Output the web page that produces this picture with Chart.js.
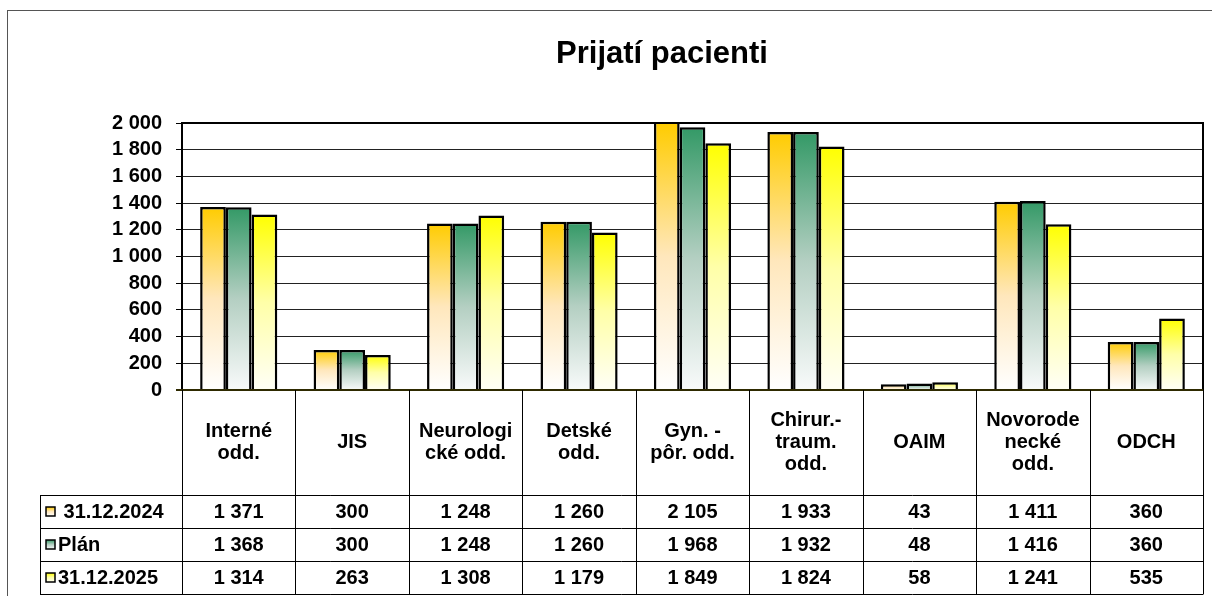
<!DOCTYPE html>
<html>
<head>
<meta charset="utf-8">
<title>Prijatí pacienti</title>
<script src="https://cdn.jsdelivr.net/npm/chart.js@4.4.1/dist/chart.umd.min.js"></script>
<style>
  html, body { margin: 0; padding: 0; background: #fff; }
  #wrap { width: 1212px; height: 596px; }
</style>
</head>
<body>
<div id="wrap"><canvas id="patientsChart" width="1212" height="596"></canvas></div>
<script>
// data
const categories = [
    ['Interné', 'odd.'],
    ['JIS'],
    ['Neurologi', 'cké odd.'],
    ['Detské', 'odd.'],
    ['Gyn. -', 'pôr. odd.'],
    ['Chirur.-', 'traum.', 'odd.'],
    ['OAIM'],
    ['Novorode', 'necké', 'odd.'],
    ['ODCH']
];
const seriesNames = [' 31.12.2024', 'Plán', '31.12.2025'];
const values2024 = [1371, 300, 1248, 1260, 2105, 1933, 43, 1411, 360];
const valuesPlan = [1368, 300, 1248, 1260, 1968, 1932, 48, 1416, 360];
const values2025 = [1314, 263, 1308, 1179, 1849, 1824, 58, 1241, 535];
const yTicks = [0, 200, 400, 600, 800, 1000, 1200, 1400, 1600, 1800, 2000];

const gradStops = [
    ['#FFCC00', '#FFE7BC', '#FFFFFF'],
    ['#339966', '#B4CFC2', '#F8FAFA'],
    ['#FFFF00', '#FFFFA8', '#FFFFF6']
];

const FONT = '"Liberation Sans", Arial, sans-serif';

function fmt(v) {
    return String(v).replace(/\B(?=(\d{3})+(?!\d))/g, ' ');
}

function makeGradient(ctx, stops, yTop, yBottom) {
    const g = ctx.createLinearGradient(0, yTop, 0, yBottom);
    g.addColorStop(0, stops[0]);
    g.addColorStop(0.5, stops[1]);
    g.addColorStop(1, stops[2]);
    return g;
}

function barFill(stops) {
    return function(context) {
        const chart = context.chart;
        if (!chart.chartArea || context.type !== 'data') return stops[0];
        const y = chart.scales.y;
        const top = y.getPixelForValue(Math.min(context.raw, y.max));
        const base = y.getPixelForValue(0);
        return makeGradient(chart.ctx, stops, top, base + 0.01);
    };
}

// frame, plot border, data table with legend keys
const tablePlugin = {
    id: 'dataTable',
    beforeDraw(chart) {
        const ctx = chart.ctx;
        ctx.save();
        ctx.fillStyle = '#fff';
        ctx.fillRect(0, 0, chart.width, chart.height);
        ctx.strokeStyle = '#555';
        ctx.lineWidth = 1;
        ctx.strokeRect(7.5, 10.5, chart.width + 20, chart.height + 20);
        ctx.fillStyle = '#000';
        ctx.font = 'bold 31px ' + FONT;
        ctx.textAlign = 'center';
        ctx.textBaseline = 'middle';
        ctx.fillText('Prijatí pacienti', 662, 54);
        ctx.restore();
    },
    afterDatasetsDraw(chart) {
        const ctx = chart.ctx;
        const a = chart.chartArea;
        ctx.save();
        ctx.strokeStyle = '#000';
        ctx.lineWidth = 2;
        ctx.beginPath();
        ctx.moveTo(a.left, a.bottom);
        ctx.lineTo(a.left, a.top);
        ctx.lineTo(a.right, a.top);
        ctx.lineTo(a.right, a.bottom);
        ctx.stroke();
        ctx.strokeStyle = '#2e2a00';
        ctx.beginPath();
        ctx.moveTo(a.left - 6, a.bottom);
        ctx.lineTo(a.right, a.bottom);
        ctx.stroke();
        ctx.restore();
    },
    afterDraw(chart) {
        const ctx = chart.ctx;
        const a = chart.chartArea;
        const x = chart.scales.x;
        const colW = (a.right - a.left) / categories.length;
        const headH = 105;
        const rowH = 33;
        const legendLeft = 40;
        const tableTop = a.bottom;
        const rowsTop = tableTop + headH;
        const tableBottom = rowsTop + rowH * seriesNames.length;
        const allValues = [values2024, valuesPlan, values2025];

        ctx.save();
        ctx.strokeStyle = '#000';
        ctx.lineWidth = 1;
        ctx.beginPath();
        // vertical column lines
        for (let i = 0; i <= categories.length; i++) {
            const cx = Math.round(a.left + i * colW) + 0.5;
            ctx.moveTo(cx, tableTop);
            ctx.lineTo(cx, tableBottom);
        }
        ctx.moveTo(legendLeft + 0.5, rowsTop);
        ctx.lineTo(legendLeft + 0.5, tableBottom);
        // horizontal row lines
        for (let r = 0; r <= seriesNames.length; r++) {
            const ry = Math.round(rowsTop + r * rowH) + 0.5;
            ctx.moveTo(legendLeft, ry);
            ctx.lineTo(a.right + 0.5, ry);
        }
        ctx.stroke();

        ctx.fillStyle = '#000';
        ctx.font = 'bold 20px ' + FONT;
        ctx.textAlign = 'center';
        ctx.textBaseline = 'middle';
        const lineH = 22;
        categories.forEach((lines, i) => {
            const cx = x.getPixelForValue(i);
            const midY = tableTop + headH / 2;
            lines.forEach((t, k) => {
                ctx.fillText(t, cx, midY + (k - (lines.length - 1) / 2) * lineH);
            });
            allValues.forEach((vals, r) => {
                ctx.fillText(fmt(vals[i]), cx, rowsTop + r * rowH + rowH / 2 + 1);
            });
        });

        // legend keys
        seriesNames.forEach((name, r) => {
            const cy = rowsTop + r * rowH + rowH / 2;
            const kx = 46, ks = 9;
            ctx.fillStyle = makeGradient(ctx, gradStops[r], cy - ks / 2, cy + ks / 2);
            ctx.fillRect(kx, cy - ks / 2, ks, ks);
            ctx.strokeStyle = '#000';
            ctx.lineWidth = 1.5;
            ctx.strokeRect(kx, cy - ks / 2, ks, ks);
            ctx.fillStyle = '#000';
            ctx.textAlign = 'left';
            ctx.fillText(name, 58, cy + 1);
        });
        ctx.restore();
    }
};

const chartCtx = document.getElementById('patientsChart').getContext('2d');
new Chart(chartCtx, {
    type: 'bar',
    data: {
        labels: categories.map(c => c.join(' ')),
        datasets: [
            { label: seriesNames[0], data: values2024, backgroundColor: barFill(gradStops[0]) },
            { label: seriesNames[1], data: valuesPlan, backgroundColor: barFill(gradStops[1]) },
            { label: seriesNames[2], data: values2025, backgroundColor: barFill(gradStops[2]) }
        ].map(ds => Object.assign(ds, {
            borderColor: '#000',
            borderWidth: 2.5,
            borderSkipped: 'bottom',
            categoryPercentage: 0.68,
            barPercentage: 1
        }))
    },
    options: {
        responsive: false,
        animation: false,
        layout: {
            padding: { left: 0, top: 123, right: 9, bottom: 206 }
        },
        plugins: {
            legend: { display: false },
            title: { display: false },
            tooltip: { enabled: false }
        },
        scales: {
            x: {
                display: false
            },
            y: {
                min: 0,
                max: 2000,
                afterFit(scale) { scale.width = 182; },
                afterBuildTicks(scale) { scale.ticks = yTicks.map(v => ({ value: v })); },
                border: { display: false },
                grid: {
                    color: '#222',
                    lineWidth: 1,
                    borderDash: [3, 2],
                    tickLength: 6,
                    tickColor: '#000',
                    tickBorderDash: [],
                    tickWidth: 1
                },
                ticks: {
                    autoSkip: false,
                    padding: 14,
                    color: '#000',
                    font: { family: FONT, size: 20, weight: 'bold' },
                    callback: v => fmt(v)
                }
            }
        }
    },
    plugins: [tablePlugin]
});
</script>
</body>
</html>
